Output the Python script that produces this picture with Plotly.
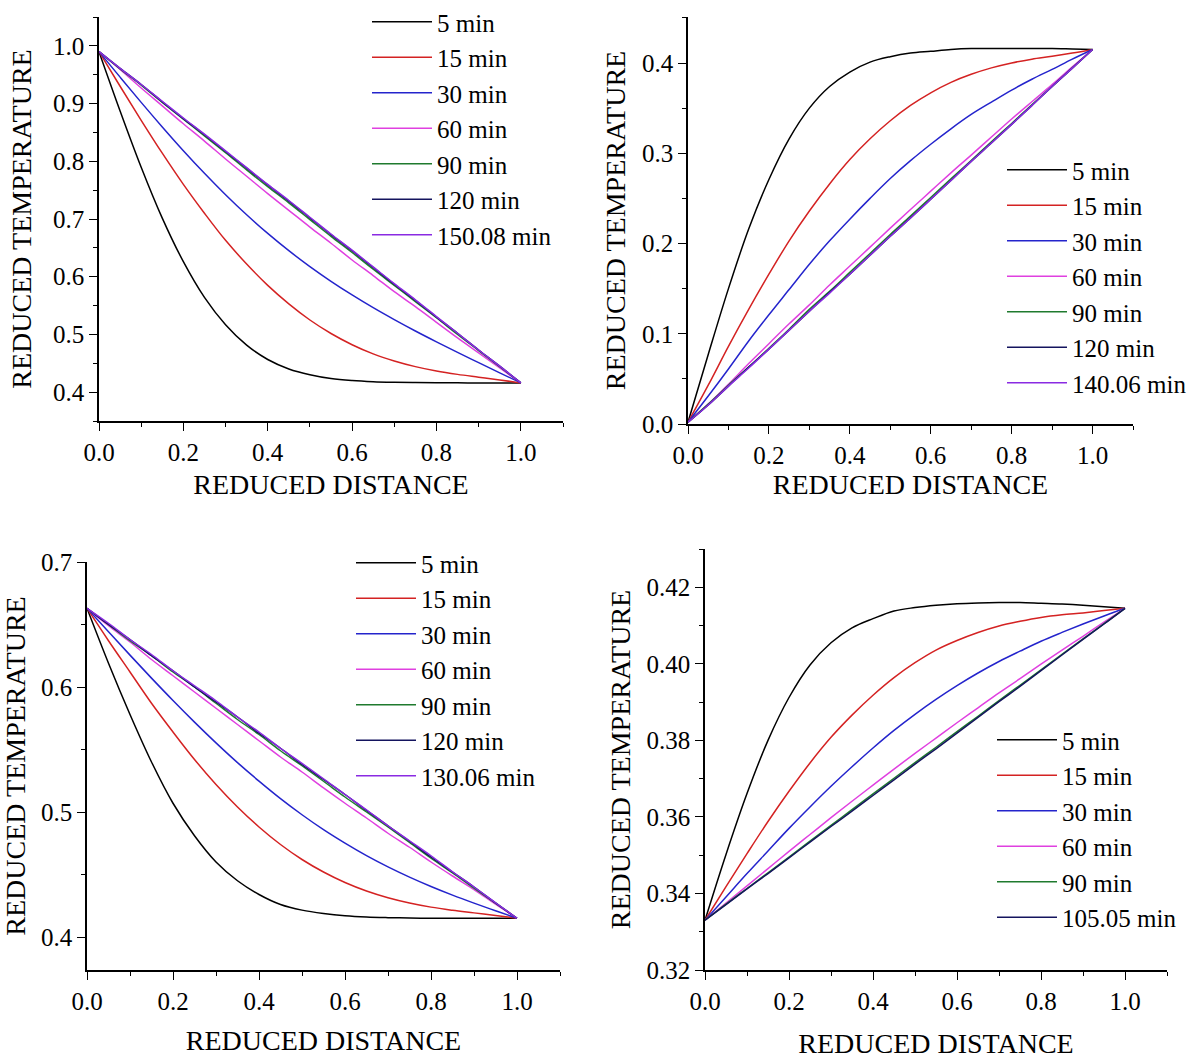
import plotly.graph_objects as go

W, H = 1196, 1060
FONT = "Liberation Serif, Times New Roman, serif"

# reduced distance grid (read positions)
X = [0.0, 0.05, 0.1, 0.15, 0.2, 0.25, 0.3, 0.35, 0.4, 0.45, 0.5,
     0.55, 0.6, 0.65, 0.7, 0.75, 0.8, 0.85, 0.9, 0.95, 1.0]

COLORS = ["#000000", "#D42222", "#2424CC", "#E040E0", "#1F7A2E", "#14145E", "#8A2BE2"]

# ---------- panel 1 (top-left) ----------
P1_LABELS = ["5 min", "15 min", "30 min", "60 min", "90 min", "120 min", "150.08 min"]
P1_5 = [0.990, 0.8873, 0.7898, 0.7016, 0.6261, 0.5642, 0.5168, 0.4814, 0.4566, 0.4402, 0.4301,
        0.4235, 0.4200, 0.4180, 0.4170, 0.4165, 0.4162, 0.4161, 0.4160, 0.4160, 0.416]
P1_15 = [0.990, 0.930, 0.871, 0.814, 0.760, 0.710, 0.663, 0.622, 0.585, 0.553, 0.525,
         0.5016, 0.4822, 0.4663, 0.4540, 0.4442, 0.4366, 0.4308, 0.4260, 0.4212, 0.416]
P1_30 = [0.990, 0.9458, 0.9021, 0.8595, 0.8183, 0.7791, 0.7420, 0.7073, 0.6750, 0.6451, 0.6175,
         0.5920, 0.5684, 0.5463, 0.5256, 0.5059, 0.4871, 0.4688, 0.4511, 0.4335, 0.416]
P1_60 = [0.990, 0.959, 0.927, 0.896, 0.865, 0.835, 0.804, 0.774, 0.744, 0.715, 0.686,
         0.658, 0.629, 0.602, 0.574, 0.548, 0.521, 0.494, 0.468, 0.442, 0.416]
P1_90 = [0.990, 0.960, 0.932, 0.902, 0.873, 0.844, 0.815, 0.785, 0.756, 0.728, 0.699,
         0.670, 0.642, 0.613, 0.585, 0.557, 0.529, 0.500, 0.472, 0.444, 0.416]
P1_120 = [0.990, 0.961, 0.933, 0.903, 0.874, 0.846, 0.817, 0.788, 0.759, 0.731, 0.702,
          0.673, 0.645, 0.616, 0.587, 0.559, 0.530, 0.502, 0.473, 0.445, 0.416]
P1_150 = [0.990, 0.961, 0.933, 0.904, 0.875, 0.847, 0.818, 0.789, 0.760, 0.732, 0.703,
          0.674, 0.646, 0.617, 0.588, 0.560, 0.531, 0.502, 0.473, 0.445, 0.416]

# ---------- panel 2 (top-right) ----------
P2_LABELS = ["5 min", "15 min", "30 min", "60 min", "90 min", "120 min", "140.06 min"]
P2_5 = [0.002, 0.077, 0.150, 0.216, 0.271, 0.316, 0.350, 0.374, 0.390, 0.401, 0.407,
        0.411, 0.413, 0.415, 0.416, 0.416, 0.416, 0.416, 0.416, 0.4155, 0.415]
P2_15 = [0.002, 0.043, 0.086, 0.127, 0.166, 0.203, 0.236, 0.266, 0.293, 0.316, 0.336,
         0.353, 0.367, 0.3786, 0.3875, 0.3946, 0.4001, 0.4043, 0.4074, 0.411, 0.415]
P2_30 = [0.002, 0.031, 0.061, 0.092, 0.121, 0.149, 0.177, 0.203, 0.227, 0.250, 0.272,
         0.2918, 0.310, 0.3271, 0.343, 0.3567, 0.370, 0.3820, 0.393, 0.4043, 0.415]
P2_60 = [0.002, 0.022, 0.044, 0.067, 0.089, 0.111, 0.132, 0.154, 0.175, 0.196, 0.217,
         0.2377, 0.258, 0.2783, 0.298, 0.318, 0.338, 0.3571, 0.376, 0.3957, 0.415]
P2_90 = [0.002, 0.022, 0.043, 0.063, 0.084, 0.105, 0.127, 0.147, 0.168, 0.189, 0.210,
         0.2303, 0.251, 0.2716, 0.292, 0.3127, 0.333, 0.3537, 0.374, 0.3946, 0.415]
P2_120 = [0.002, 0.021, 0.042, 0.063, 0.083, 0.104, 0.125, 0.146, 0.166, 0.187, 0.208,
          0.2284, 0.249, 0.2699, 0.291, 0.3114, 0.332, 0.3529, 0.374, 0.3943, 0.415]
P2_140 = [0.002, 0.021, 0.042, 0.062, 0.083, 0.104, 0.125, 0.145, 0.166, 0.187, 0.208,
          0.2283, 0.249, 0.2698, 0.291, 0.3113, 0.332, 0.3528, 0.374, 0.3943, 0.415]

# ---------- panel 3 (bottom-left) ----------
P3_LABELS = ["5 min", "15 min", "30 min", "60 min", "90 min", "120 min", "130.06 min"]
P3_5 = [0.663, 0.619, 0.578, 0.540, 0.507, 0.481, 0.460, 0.445, 0.434, 0.426, 0.4215,
        0.4188, 0.417, 0.416, 0.4155, 0.4152, 0.415, 0.415, 0.415, 0.415, 0.415]
P3_15 = [0.663, 0.637, 0.612, 0.587, 0.564, 0.542, 0.522, 0.504, 0.488, 0.474, 0.462,
         0.452, 0.4436, 0.4368, 0.4314, 0.4272, 0.4239, 0.4214, 0.4193, 0.4172, 0.415]
P3_30 = [0.663, 0.6442, 0.6255, 0.6071, 0.5892, 0.5719, 0.5553, 0.5395, 0.5247, 0.5107, 0.4978,
         0.4859, 0.4751, 0.4651, 0.4561, 0.4479, 0.4404, 0.4335, 0.4271, 0.421, 0.415]
P3_60 = [0.663, 0.649, 0.636, 0.622, 0.609, 0.596, 0.583, 0.570, 0.557, 0.544, 0.532,
         0.5193, 0.507, 0.4952, 0.483, 0.4718, 0.460, 0.4488, 0.438, 0.4262, 0.415]
P3_90 = [0.663, 0.650, 0.637, 0.625, 0.612, 0.600, 0.587, 0.574, 0.562, 0.549, 0.537,
         0.5246, 0.512, 0.5000, 0.488, 0.4756, 0.463, 0.4513, 0.439, 0.4271, 0.415]
P3_120 = [0.663, 0.650, 0.638, 0.625, 0.613, 0.600, 0.588, 0.576, 0.563, 0.551, 0.538,
          0.526, 0.514, 0.5013, 0.489, 0.4766, 0.464, 0.452, 0.440, 0.4273, 0.415]
P3_130 = [0.663, 0.651, 0.638, 0.626, 0.613, 0.601, 0.589, 0.576, 0.564, 0.551, 0.539,
          0.5266, 0.514, 0.5018, 0.489, 0.477, 0.465, 0.4522, 0.440, 0.4274, 0.415]

# ---------- panel 4 (bottom-right) ----------
P4_LABELS = ["5 min", "15 min", "30 min", "60 min", "90 min", "105.05 min"]
P4_5 = [0.333, 0.3502, 0.3661, 0.3800, 0.3912, 0.3997, 0.4055, 0.4094, 0.4118, 0.4138, 0.4147,
        0.4153, 0.4157, 0.4159, 0.4160, 0.4160, 0.4158, 0.4156, 0.4153, 0.4149, 0.4145]
P4_15 = [0.333, 0.3418, 0.3504, 0.3588, 0.3667, 0.3741, 0.3808, 0.3866, 0.3918, 0.3964, 0.4003,
         0.4036, 0.4061, 0.4082, 0.4099, 0.4111, 0.4121, 0.4128, 0.4133, 0.4139, 0.4145]
P4_30 = [0.333, 0.3391, 0.3452, 0.3511, 0.3570, 0.3626, 0.3680, 0.3731, 0.3780, 0.3826, 0.3868,
         0.3907, 0.3943, 0.3976, 0.4006, 0.4033, 0.4059, 0.4082, 0.4104, 0.4125, 0.4145]
P4_60 = [0.333, 0.3375, 0.3420, 0.3465, 0.3510, 0.3554, 0.3598, 0.3641, 0.3683, 0.3725, 0.3766,
         0.3806, 0.3846, 0.3885, 0.3924, 0.3961, 0.3999, 0.4036, 0.4072, 0.4109, 0.4145]
P4_90 = [0.333, 0.3372, 0.3413, 0.3454, 0.3495, 0.3537, 0.3578, 0.3619, 0.3660, 0.3701, 0.3742,
         0.3782, 0.3823, 0.3863, 0.3904, 0.3944, 0.3984, 0.4025, 0.4065, 0.4105, 0.4145]
P4_105 = [0.333, 0.3371, 0.3412, 0.3452, 0.3493, 0.3534, 0.3575, 0.3615, 0.3656, 0.3697, 0.3738,
          0.3778, 0.3819, 0.3860, 0.3901, 0.3941, 0.3982, 0.4023, 0.4064, 0.4104, 0.4145]

PANELS = [
    dict(labels=P1_LABELS, series=[P1_5, P1_15, P1_30, P1_60, P1_90, P1_120, P1_150],
         colors=COLORS, xpx=(99, 563), ypx=(17, 421), yrange=[0.35, 1.05], ydtick=0.1, yfmt=".1f",
         legend_px=(373, 24), xstand=10, ystand=13),
    dict(labels=P2_LABELS, series=[P2_5, P2_15, P2_30, P2_60, P2_90, P2_120, P2_140],
         colors=COLORS, xpx=(688, 1133), ypx=(17, 424), yrange=[0.0, 0.451], ydtick=0.1, yfmt=".1f",
         legend_px=(1008, 172), xstand=7, ystand=8),
    dict(labels=P3_LABELS, series=[P3_5, P3_15, P3_30, P3_60, P3_90, P3_120, P3_130],
         colors=COLORS, xpx=(87, 560), ypx=(562, 970), yrange=[0.3736, 0.7], ydtick=0.1, yfmt=".1f",
         legend_px=(357, 565), xstand=17, ystand=8),
    dict(labels=P4_LABELS, series=[P4_5, P4_15, P4_30, P4_60, P4_90, P4_105],
         colors=COLORS[:5] + ["#14145E"], xpx=(705, 1167), ypx=(549, 970), yrange=[0.32, 0.43], ydtick=0.02, yfmt=".2f",
         legend_px=(998, 742), xstand=20, ystand=8),
]

fig = go.Figure()
layout = dict(width=W, height=H, margin=dict(l=0, r=0, t=0, b=0, autoexpand=False),
              paper_bgcolor="white", plot_bgcolor="white",
              font=dict(family=FONT, color="black"), showlegend=True)

for i, p in enumerate(PANELS, start=1):
    sfx = "" if i == 1 else str(i)
    leg = "legend" if i == 1 else f"legend{i}"
    for lab, ys, col in zip(p["labels"], p["series"], p["colors"]):
        fig.add_trace(go.Scatter(x=X, y=ys, name=lab, mode="lines",
                                 line=dict(color=col, width=1.5, shape="spline", smoothing=1.0,
                                           simplify=False),
                                 xaxis="x" + sfx, yaxis="y" + sfx, legend=leg))
    x0, x1 = p["xpx"]
    yt, yb = p["ypx"]
    axcommon = dict(showgrid=False, zeroline=False, showline=True, linecolor="black", linewidth=1.6,
                    ticks="outside", ticklen=8, tickwidth=1.4, tickcolor="black", automargin=False,
                    tickfont=dict(family=FONT, size=25, color="black"),
                    minor=dict(ticks="outside", ticklen=4, tickwidth=1.2, tickcolor="black"),
                    mirror=False)
    layout["xaxis" + sfx] = dict(axcommon, domain=[x0 / W, x1 / W], range=[0, 1.1],
                                 anchor="y" + sfx, dtick=0.2, tick0=0, tickformat=".1f",
                                 minor=dict(axcommon["minor"], dtick=0.1),
                                 title=dict(text="REDUCED DISTANCE", standoff=p["xstand"],
                                            font=dict(family=FONT, size=28, color="black")))
    layout["yaxis" + sfx] = dict(axcommon, domain=[1 - yb / H, 1 - yt / H], range=p["yrange"],
                                 anchor="x" + sfx, dtick=p["ydtick"], tick0=0, tickformat=p["yfmt"],
                                 minor=dict(axcommon["minor"], dtick=p["ydtick"] / 2),
                                 title=dict(text="REDUCED TEMPERATURE", standoff=p["ystand"],
                                            font=dict(family=FONT, size=28, color="black")))
    lx, ly = p["legend_px"]
    layout[leg] = dict(x=(lx - 6) / W, y=1 - (ly - 25) / H, xanchor="left", yanchor="top",
                       xref="paper", yref="paper", bgcolor="rgba(0,0,0,0)", borderwidth=0,
                       font=dict(family=FONT, size=25, color="black"), itemwidth=60,
                       tracegroupgap=0)

fig.update_layout(**layout)
fig.write_html("out.html", config={"displayModeBar": False},
               post_script="document.body.style.margin='0px';")
